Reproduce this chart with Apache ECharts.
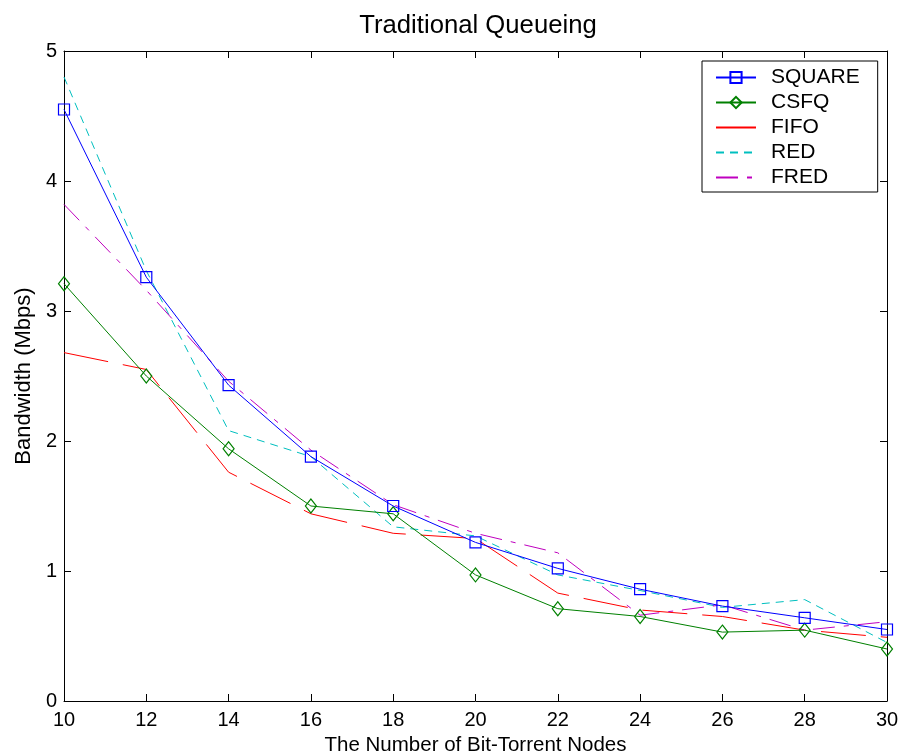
<!DOCTYPE html>
<html>
<head>
<meta charset="utf-8">
<script src="https://cdn.jsdelivr.net/npm/echarts@6/dist/echarts.min.js"></script>
<style>html,body{margin:0;padding:0;background:#fff}#c{width:901px;height:756px}</style>
</head>
<body>
<div id="c"></div>
<script>
var nodes = [10, 12, 14, 16, 18, 20, 22, 24, 26, 28, 30];
var square = [4.55, 3.26, 2.43, 1.88, 1.50, 1.22, 1.02, 0.86, 0.73, 0.64, 0.55];
var csfq   = [3.21, 2.50, 1.94, 1.50, 1.44, 0.97, 0.71, 0.65, 0.53, 0.545, 0.40];
var fifo   = [2.68, 2.55, 1.76, 1.44, 1.29, 1.25, 0.83, 0.70, 0.65, 0.545, 0.49];
var red    = [4.80, 3.31, 2.08, 1.88, 1.34, 1.27, 0.97, 0.85, 0.72, 0.78, 0.45];
var fred   = [3.82, 3.16, 2.46, 1.93, 1.51, 1.29, 1.14, 0.66, 0.74, 0.545, 0.61];
var yTicks = [0, 1, 2, 3, 4, 5];

function pairs(v){ return nodes.map(function(x,i){ return [x, v[i]]; }); }
var FONT = 'Liberation Sans, Arial, sans-serif';

var chart = echarts.init(document.getElementById('c'), null, {renderer:'canvas'});
var axisCommon = {
  axisLine:{show:true, onZero:false, lineStyle:{color:'#000', width:1}},
  axisTick:{show:true, inside:true, length:7, lineStyle:{color:'#000'}},
  splitLine:{show:false}
};
var hideDot = {color:'rgba(0,0,0,0)', borderWidth:0, opacity:0};
chart.setOption({
  backgroundColor:'#fff',
  animation:false,
  title:{text:'Traditional Queueing', left:473, top:8, textAlign:'center',
    textStyle:{fontFamily:FONT, fontSize:25.7, fontWeight:'normal', color:'#000'}},
  legend:{
    orient:'vertical', left:702, top:61,
    padding:[6,18,4,13], itemGap:4, itemWidth:40, itemHeight:14,
    backgroundColor:'#fff', borderColor:'#000', borderWidth:1, borderRadius:0,
    textStyle:{fontFamily:FONT, fontSize:21, color:'#000', padding:[0,0,0,10]},
    data:[
      {name:'SQUARE'},
      {name:'CSFQ'},
      {name:'FIFO', lineStyle:{type:'solid'}, itemStyle:hideDot},
      {name:'RED', itemStyle:hideDot},
      {name:'FRED', itemStyle:hideDot}
    ]
  },
  grid:{left:64, right:14, top:51, bottom:55, containLabel:false, outerBoundsMode:'none'},
  xAxis:[
    Object.assign({type:'value', min:10, max:30, interval:2, position:'bottom',
      name:'The Number of Bit-Torrent Nodes', nameLocation:'middle', nameGap:34,
      nameTextStyle:{fontFamily:FONT, fontSize:20.5, color:'#000'},
      axisLabel:{fontFamily:FONT, fontSize:20, color:'#000', margin:9}}, axisCommon),
    Object.assign({type:'value', min:10, max:30, interval:2, position:'top',
      axisLabel:{show:false}}, axisCommon)
  ],
  yAxis:[
    Object.assign({type:'value', min:0, max:5, interval:1, position:'left',
      name:'Bandwidth (Mbps)', nameLocation:'middle', nameGap:26,
      nameTextStyle:{fontFamily:FONT, fontSize:22, color:'#000'},
      axisLabel:{fontFamily:FONT, fontSize:20, color:'#000', margin:7}}, axisCommon),
    Object.assign({type:'value', min:0, max:5, interval:1, position:'right',
      axisLabel:{show:false}}, axisCommon)
  ],
  series:[
    {name:'SQUARE', type:'line', data:pairs(square), symbol:'rect', symbolSize:11,
      lineStyle:{color:'#0000ff', width:1}, itemStyle:{color:'rgba(0,0,0,0)', borderColor:'#0000ff', borderWidth:1.2}, z:5},
    {name:'CSFQ', type:'line', data:pairs(csfq), symbol:'diamond', symbolSize:[11,14],
      lineStyle:{color:'#008000', width:1}, itemStyle:{color:'rgba(0,0,0,0)', borderColor:'#008000', borderWidth:1.2}, z:4},
    {name:'FIFO', type:'line', data:pairs(fifo), symbol:'none', showSymbol:false,
      lineStyle:{color:'#ff0000', width:1, type:[45,15]}, itemStyle:{color:'#ff0000'}},
    {name:'RED', type:'line', data:pairs(red), symbol:'none', showSymbol:false,
      lineStyle:{color:'#00bfbf', width:1, type:[8,6]}, itemStyle:{color:'#00bfbf'}},
    {name:'FRED', type:'line', data:pairs(fred), symbol:'none', showSymbol:false,
      lineStyle:{color:'#bf00bf', width:1, type:[22,9,5,9]}, itemStyle:{color:'#bf00bf'}}
  ]
});
</script>
</body>
</html>
